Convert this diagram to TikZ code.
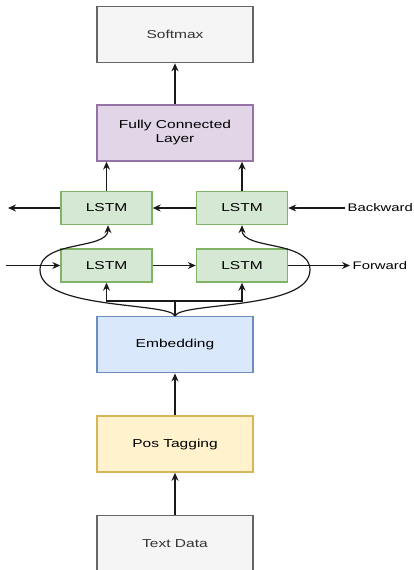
\documentclass[tikz,border=0pt]{standalone}
\usepackage{fontspec}
\newfontfamily\lblfont[FakeStretch=1.35]{Liberation Sans}
\usetikzlibrary{positioning,arrows.meta}
\definecolor{grayfill}{HTML}{F5F5F5}
\definecolor{grayline}{HTML}{666666}
\definecolor{graytext}{HTML}{333333}
\definecolor{purplefill}{HTML}{E1D5E7}
\definecolor{purpleline}{HTML}{9673A6}
\definecolor{greenfill}{HTML}{D5E8D4}
\definecolor{greenline}{HTML}{82B366}
\definecolor{bluefill}{HTML}{DAE8FC}
\definecolor{blueline}{HTML}{6C8EBF}
\definecolor{yellowfill}{HTML}{FFF2CC}
\definecolor{yellowline}{HTML}{D6B656}
\definecolor{wire}{HTML}{1A1A1A}

\begin{document}
\begin{tikzpicture}[x=1pt,y=-1pt,
    box/.style={draw,line width=1.4pt,minimum width=156pt,minimum height=56pt,inner sep=0pt,
                align=center,font=\lblfont\fontsize{11.5}{14}\selectfont},
    cell/.style={box,minimum width=91pt,minimum height=33pt,draw=greenline,fill=greenfill},
    arr/.style={-{Stealth[length=8pt,width=7pt]},line width=1.2pt,draw=wire},
    tag/.style={inner sep=2.5pt,font=\lblfont\fontsize{11}{14}\selectfont}]
  \useasboundingbox (0,0) rectangle (414,570);
            \node[box,draw=grayline,fill=grayfill,text=graytext] (txt) at (175,543.5) {Text Data};
            \node[box,draw=yellowline,fill=yellowfill] (pos) [above = 42pt of txt] {Pos Tagging};
            \node[box,draw=blueline,fill=bluefill]     (emb) [above = 42pt of pos] {Embedding};
            \node[cell] (f1) at (106.5,265.5) {LSTM};
            \node[cell] (f2) at (242,265.5)   {LSTM};
            \node[cell] (b1) at (106.5,208)   {LSTM};
            \node[cell] (b2) at (242,208)     {LSTM};
            \node[box,draw=purpleline,fill=purplefill] (fc) at (175,133) {Fully Connected\\Layer};
            \node[box,draw=grayline,fill=grayfill,text=graytext] (soft) [above = 41pt of fc] {Softmax};
            \node[tag,anchor=west] (bwd) at (345,208)   {Backward};
            \node[tag,anchor=west] (fwd) at (350,265.5) {Forward};
            \coordinate (bout) at (8,208);
            \coordinate (fin)  at (6,265.5);

            \draw[arr] (txt) -- (pos);
            \draw[arr] (pos) -- (emb);
            \draw[arr] (emb.north) -- ++(0,-15) -| (f1.south);
            \draw[arr] (emb.north) -- ++(0,-15) -| (f2.south);
            \draw[arr] (emb.north) .. controls (170,302) and (40,310) .. (40,270)
                                   .. controls (40,240) and ([xshift=1.5pt]b1.south |- 0,250) .. ([xshift=1.5pt]b1.south);
            \draw[arr] (emb.north) .. controls (180,302) and (310,310) .. (310,270)
                                   .. controls (310,240) and (b2.south |- 0,250) .. (b2.south);
            \draw[arr] (fin) -- (f1);
            \draw[arr] (f1) -- (f2);
            \draw[arr] (f2) -- (fwd);
            \draw[arr] (bwd) -- (b2);
            \draw[arr] (b2) -- (b1);
            \draw[arr] (b1) -- (bout);
            \draw[arr] (b1.north) -- (b1.north |- fc.south);
            \draw[arr] (b2.north) -- (b2.north |- fc.south);
            \draw[arr] (fc) -- (soft);
\end{tikzpicture}
\end{document}
